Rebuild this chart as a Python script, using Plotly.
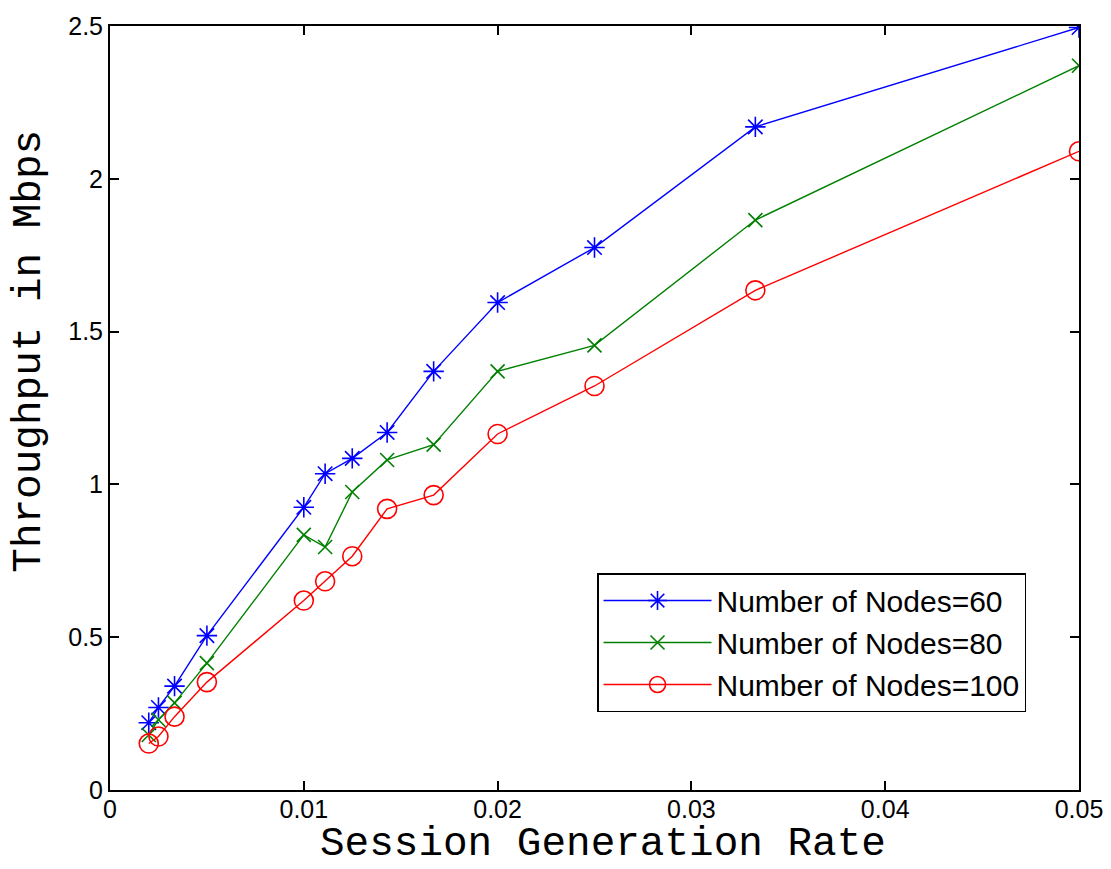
import plotly.graph_objects as go

rate = [0.002, 0.0025, 0.00333, 0.005, 0.01, 0.0111, 0.0125, 0.0143, 0.0167, 0.02, 0.025, 0.0333, 0.05]
nodes60 = [0.22, 0.27, 0.34, 0.505, 0.925, 1.035, 1.085, 1.17, 1.37, 1.595, 1.775, 2.17, 2.495]
nodes80 = [0.18, 0.23, 0.285, 0.415, 0.835, 0.795, 0.975, 1.08, 1.13, 1.37, 1.455, 1.865, 2.37]
nodes100 = [0.152, 0.175, 0.24, 0.353, 0.62, 0.683, 0.765, 0.92, 0.965, 1.165, 1.322, 1.635, 2.09]

x_ticks = [0, 0.01, 0.02, 0.03, 0.04, 0.05]
x_ticktext = ["0", "0.01", "0.02", "0.03", "0.04", "0.05"]
y_ticks = [0, 0.5, 1, 1.5, 2, 2.5]
y_ticktext = ["0", "0.5", "1", "1.5", "2", "2.5"]

series = [
    ("Number of Nodes=60", nodes60, "#0000ff", "asterisk-open", 17),
    ("Number of Nodes=80", nodes80, "#008000", "x-thin-open", 14),
    ("Number of Nodes=100", nodes100, "#ff0000", "circle-open", 19),
]

fig = go.Figure()
for name, ys, col, sym, sz in series:
    fig.add_trace(go.Scatter(
        x=rate, y=ys, name=name, mode="lines+markers",
        line=dict(color=col, width=1.4),
        marker=dict(symbol=sym, size=sz, color=col, line=dict(color=col, width=1.6)),
    ))

axis_common = dict(
    showline=True, linecolor="black", linewidth=2, mirror="ticks",
    ticks="inside", ticklen=9, tickcolor="black", tickwidth=1.5,
    showgrid=False, zeroline=False, automargin=False,
    tickfont=dict(family="Liberation Sans, Arial", size=25, color="black"),
)

title_font = dict(family="Liberation Mono, Courier New", size=41, color="black")

fig.update_layout(
    width=1111, height=869,
    margin=dict(l=110, r=32, t=26, b=79),
    plot_bgcolor="white", paper_bgcolor="white",
    xaxis=dict(range=[0, 0.05], tickvals=x_ticks, ticktext=x_ticktext,
               ticklabelstandoff=-4, **axis_common),
    yaxis=dict(range=[0, 2.5], tickvals=y_ticks, ticktext=y_ticktext, **axis_common),
    legend=dict(x=0.5026, y=0.284, xanchor="left", yanchor="top",
                bordercolor="black", borderwidth=1.5, bgcolor="white",
                font=dict(family="Liberation Sans, Arial", size=30, color="black"),
                itemwidth=108, tracegroupgap=0),
    showlegend=True,
    annotations=[
        dict(text="Session Generation Rate", xref="paper", yref="paper",
             x=0.509, y=-0.1015, xanchor="center", yanchor="bottom", borderpad=0,
             showarrow=False, font=title_font),
        dict(text="Throughput in Mbps", xref="paper", yref="paper",
             x=-0.0836, y=0.575, xanchor="center", yanchor="middle", textangle=-90,
             showarrow=False, font=title_font),
    ],
)

fig.write_html("out.html")
